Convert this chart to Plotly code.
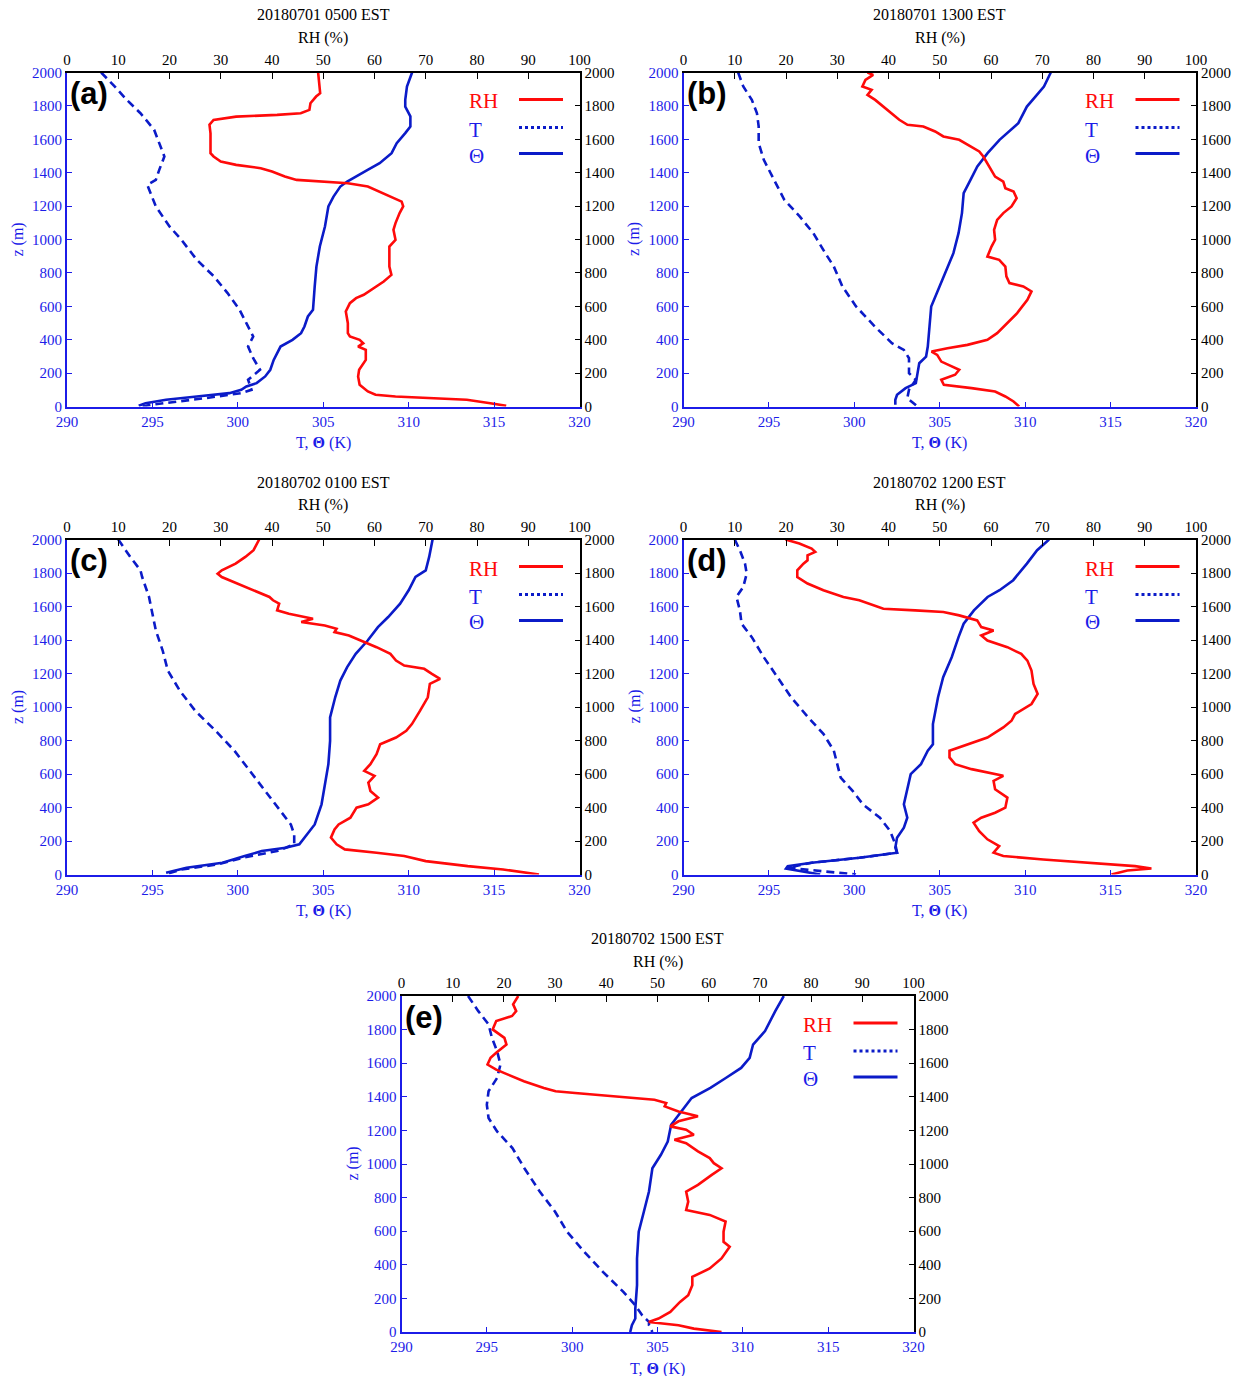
import plotly.graph_objects as go

# ---------------- data ----------------
TITLES = ["20180701 0500 EST", "20180701 1300 EST", "20180702 0100 EST",
          "20180702 1200 EST", "20180702 1500 EST"]
PANEL_LABELS = ["(a)", "(b)", "(c)", "(d)", "(e)"]
TEMP_TICKS = [290, 295, 300, 305, 310, 315, 320]
RH_TICKS = [0, 10, 20, 30, 40, 50, 60, 70, 80, 90, 100]
Z_TICKS = [0, 200, 400, 600, 800, 1000, 1200, 1400, 1600, 1800, 2000]
LEGEND_NAMES = ["RH", "T", "\u0398"]

# Panel (a)
A_RH_Z = [2000, 1876, 1856, 1816, 1776, 1756, 1746, 1736, 1716, 1687, 1636, 1517, 1497, 1467, 1447, 1427, 1407,
          1377, 1357, 1347, 1337, 1317, 1287, 1257, 1227, 1198, 1158, 1098, 1058, 998, 958, 838, 788, 748, 699,
          669, 649, 619, 569, 499, 439, 419, 399, 379, 359, 339, 279, 220, 180, 130, 90, 70, 60, 50, 40, 20, 4]
A_RH = [49.0, 49.4, 48.6, 47.5, 47.3, 45.6, 41, 33, 28.6, 27.8, 28, 28, 28.6, 30, 33, 37.8, 40,
        42.5, 44.8, 50.2, 54.8, 58.7, 61, 63.3, 65.3, 65.6, 64.9, 64.1, 63.7, 64.1, 62.9, 62.9, 63.3, 61.8, 59.5,
        57.9, 56.4, 55.2, 54.4, 54.8, 54.8, 55.2, 57.1, 57.8, 56.8, 58.3, 58.3, 57, 56.8, 57.1, 58.7, 60.2, 64.1,
        71.8, 78, 82.6, 85.7]
A_TH_Z = [2000, 1916, 1836, 1796, 1737, 1677, 1637, 1577, 1517, 1457, 1417, 1377, 1347, 1317, 1257, 1198, 1078,
          958, 838, 719, 579, 539, 479, 439, 399, 359, 319, 279, 220, 180, 140, 120, 100, 80, 60, 40, 20, 4]
A_TH = [310.2, 309.9, 309.8, 309.8, 310.1, 310.1, 309.8, 309.3, 309.0, 308.3, 307.6, 306.9, 306.4, 306.0, 305.6,
        305.3, 305.1, 304.8, 304.6, 304.5, 304.4, 304.1, 303.9, 303.7, 303.2, 302.5, 302.3, 302.1, 301.9, 301.6,
        301.1, 300.5, 300.2, 299.5, 297.6, 295.8, 294.6, 294.2]
A_T_Z = [2000, 1916, 1836, 1756, 1707, 1657, 1577, 1497, 1417, 1357, 1327, 1277, 1198, 1078, 998, 878, 779, 679,
         579, 499, 419, 359, 289, 220, 160, 100, 80, 50, 30, 10, 0]
A_T = [292.0, 292.8, 293.5, 294.3, 294.7, 295.1, 295.4, 295.7, 295.4, 295.2, 294.7, 294.9, 295.2, 296.0, 296.7,
       297.6, 298.6, 299.4, 300.1, 300.5, 300.9, 300.6, 300.9, 301.3, 300.6, 300.8, 300.2, 298.1, 296.3, 294.9,
       294.4]

# Panel (b)
B_RH_Z = [2000, 1986, 1956, 1916, 1896, 1866, 1836, 1776, 1717, 1687, 1677, 1647, 1617, 1597, 1557, 1527, 1497,
          1457, 1417, 1377, 1347, 1307, 1287, 1247, 1198, 1158, 1118, 1058, 998, 958, 898, 878, 838, 779, 739,
          719, 689, 639, 559, 499, 439, 399, 369, 349, 329, 309, 269, 220, 190, 160, 130, 110, 90, 60, 30, 0]
B_RH = [35.9, 37.0, 35.5, 34.9, 36.7, 35.9, 37.4, 39.8, 42.1, 43.7, 46.8, 49.1, 50.7, 53.8, 56.2, 57.7, 58.5,
        59.3, 60.1, 60.8, 62.4, 62.8, 64.4, 65, 64, 62.4, 61.2, 60.6, 60.8, 60.1, 59.3, 61.6, 62.8, 63, 63.6,
        66.3, 67.9, 67.1, 65.1, 63.2, 61.2, 59.3, 55.4, 51.5, 48.4, 49.5, 50.3, 53.8, 53, 50.3, 50.8, 56.2, 60.8,
        62.8, 64.4, 65.5]
B_TH_Z = [2000, 1916, 1856, 1796, 1697, 1597, 1517, 1437, 1357, 1277, 1158, 1038, 918, 798, 699, 599, 479, 359,
          299, 259, 200, 140, 110, 70, 40, 10]
B_TH = [311.5, 311.1, 310.6, 310.1, 309.6, 308.5, 307.8, 307.2, 306.8, 306.4, 306.3, 306.1, 305.8, 305.3, 304.9,
        304.5, 304.4, 304.3, 304.2, 303.8, 303.7, 303.6, 303.0, 302.5, 302.4, 302.4]
B_T_Z = [2000, 1916, 1836, 1756, 1677, 1577, 1477, 1357, 1238, 1138, 1038, 918, 838, 719, 599, 479, 379, 339, 289,
         200, 160, 100, 50, 0]
B_T = [293.2, 293.5, 294.0, 294.3, 294.4, 294.4, 294.7, 295.3, 295.9, 296.8, 297.6, 298.3, 298.8, 299.3, 300.1,
       301.2, 302.2, 302.9, 303.2, 303.2, 303.6, 303.2, 303.1, 303.7]

# Panel (c)
C_RH_Z = [2000, 1936, 1896, 1856, 1816, 1796, 1776, 1737, 1697, 1657, 1637, 1617, 1577, 1557, 1527, 1507, 1487,
          1467, 1447, 1427, 1397, 1357, 1317, 1277, 1247, 1228, 1198, 1168, 1138, 1058, 978, 898, 858, 818, 778,
          719, 659, 619, 589, 549, 499, 459, 419, 399, 339, 299, 269, 220, 180, 150, 130, 110, 80, 50, 30, 0]
C_RH = [37.5, 36.4, 34.8, 32.9, 30.2, 29.4, 30.2, 33.3, 36.4, 39.5, 40.2, 41.4, 41, 43.3, 48, 45.7, 50.3,
        52.6, 52.2, 55, 57.3, 60.4, 63.1, 64.2, 65.8, 69.7, 71.2, 72.8, 70.8, 70.4, 68.9, 67.3, 66.2, 64.2, 61.1,
        60.4, 59.2, 58, 60, 58.8, 59.2, 60.7, 58.8, 56.5, 55.3, 53, 52.2, 51.5, 52.6, 54.2, 60.4, 65.8, 70, 78.2,
        85.1, 92.1]
C_TH_Z = [2000, 1896, 1816, 1776, 1697, 1617, 1537, 1477, 1397, 1317, 1238, 1158, 1058, 938, 798, 659, 539, 419,
          299, 220, 180, 160, 140, 110, 70, 40, 10]
C_TH = [311.4, 311.2, 311.0, 310.4, 310.0, 309.5, 308.8, 308.2, 307.6, 306.9, 306.4, 306.0, 305.7, 305.4, 305.4,
        305.3, 305.1, 304.9, 304.5, 303.9, 303.6, 302.8, 301.4, 300.4, 299.1, 297.0, 295.8]
C_T_Z = [2000, 1896, 1816, 1776, 1657, 1557, 1457, 1337, 1218, 1098, 978, 858, 739, 619, 499, 379, 299, 240, 180,
         140, 100, 60, 30, 0]
C_T = [293.0, 293.7, 294.3, 294.4, 294.8, 295.0, 295.2, 295.6, 295.9, 296.6, 297.5, 298.7, 299.8, 300.7, 301.6,
       302.5, 303.1, 303.3, 303.3, 302.3, 300.3, 298.8, 296.7, 295.7]

# Panel (d)
D_RH_Z = [2000, 1976, 1946, 1926, 1906, 1876, 1856, 1816, 1776, 1737, 1697, 1657, 1637, 1607, 1587, 1577, 1567,
          1547, 1527, 1517, 1477, 1457, 1427, 1397, 1357, 1317, 1277, 1218, 1138, 1078, 1018, 958, 918, 878, 818,
          778, 739, 699, 659, 629, 589, 559, 509, 459, 399, 369, 339, 309, 259, 210, 170, 130, 110, 90, 70, 50,
          36, 24, 0]
D_RH = [19.9, 22.6, 25, 25.7, 24.2, 24.2, 23.4, 22.2, 22.2, 24.2, 27.3, 31.2, 34.3, 37.4, 39, 45.2, 50.7,
        53.8, 56.2, 57.3, 58.1, 60.5, 58.1, 59.3, 63.2, 65.9, 67.1, 67.9, 68.3, 69.1, 67.9, 64.7, 64, 62.4, 59.3,
        55.4, 51.9, 51.9, 53, 56.2, 62.4, 60.5, 60.8, 63.2, 62.8, 60.8, 58.1, 56.6, 57.7, 59.3, 61.6, 60.5, 62.4,
        70.2, 79.6, 88.1, 91.3, 86.6, 83.5]
D_TH_Z = [2000, 1936, 1856, 1757, 1697, 1657, 1577, 1497, 1417, 1297, 1178, 1058, 898, 778, 739, 659, 599, 499,
          419, 339, 279, 220, 160, 130, 100, 70, 50, 36, 20, 0]
D_TH = [311.4, 310.7, 310.1, 309.3, 308.5, 307.8, 307.0, 306.4, 306.1, 305.7, 305.2, 304.9, 304.6, 304.6, 304.3,
        303.9, 303.3, 303.1, 302.9, 303.1, 302.9, 302.5, 302.4, 302.5, 300.3, 297.5, 296.1, 296.0, 297.0, 298.0]
D_T_Z = [2000, 1936, 1856, 1796, 1717, 1657, 1577, 1497, 1417, 1297, 1178, 1058, 938, 838, 739, 659, 579, 499,
         419, 339, 259, 180, 130, 100, 70, 40, 20, 0]
D_T = [293.0, 293.3, 293.6, 293.7, 293.5, 293.1, 293.3, 293.4, 294.0, 294.7, 295.5, 296.3, 297.3, 298.2, 298.8,
       299.0, 299.2, 299.9, 300.5, 301.5, 302.1, 302.4, 302.5, 300.3, 297.5, 296.1, 298.0, 300.1]

# Panel (e)
E_RH_Z = [2000, 1950, 1910, 1881, 1851, 1801, 1751, 1711, 1662, 1632, 1592, 1562, 1532, 1493, 1453, 1433, 1423,
          1403, 1383, 1363, 1343, 1313, 1284, 1254, 1224, 1204, 1174, 1144, 1124, 1075, 1035, 1005, 975, 935, 876,
          836, 776, 726, 697, 657, 597, 537, 507, 438, 378, 328, 279, 219, 179, 119, 80, 60, 40, 20, 0]
E_RH = [22.8, 21.8, 22.4, 21.6, 18.5, 17.8, 20.1, 20.5, 18.5, 17.4, 16.8, 18.5, 20.8, 23.9, 27.8, 30.1, 33.9,
        41.7, 49.4, 51.7, 51.4, 54.1, 57.9, 54.1, 52.5, 55.6, 57.1, 53.3, 55.6, 57.9, 60.2, 61, 62.5, 60.6, 57.9,
        55.6, 56, 55.6, 60.2, 63.3, 62.9, 62.9, 64.1, 62.5, 60.2, 56.8, 56.8, 56, 54.4, 52.5, 50.2, 48.3, 54.1,
        57.1, 62.5]
E_TH_Z = [2000, 1910, 1791, 1711, 1632, 1572, 1512, 1453, 1393, 1313, 1234, 1134, 1055, 975, 836, 716, 597, 438,
          279, 139, 80, 40, 0]
E_TH = [312.4, 311.9, 311.3, 310.6, 310.4, 309.9, 309.0, 308.1, 307.0, 306.4, 305.8, 305.6, 305.2, 304.7, 304.5,
        304.2, 303.9, 303.8, 303.8, 303.7, 303.7, 303.5, 303.4]
E_T_Z = [2000, 1910, 1831, 1751, 1672, 1592, 1512, 1433, 1353, 1274, 1194, 1095, 975, 836, 716, 597, 478, 358,
         239, 159, 100, 60, 40, 0]
E_T = [293.9, 294.5, 295.1, 295.3, 295.6, 295.8, 295.6, 295.1, 295.0, 295.1, 295.6, 296.5, 297.2, 298.1, 299.0,
       299.7, 300.7, 301.8, 303.0, 303.7, 304.1, 304.5, 304.5, 304.7]

PANELS = [
    (A_RH_Z, A_RH, A_T_Z, A_T, A_TH_Z, A_TH),
    (B_RH_Z, B_RH, B_T_Z, B_T, B_TH_Z, B_TH),
    (C_RH_Z, C_RH, C_T_Z, C_T, C_TH_Z, C_TH),
    (D_RH_Z, D_RH, D_T_Z, D_T, D_TH_Z, D_TH),
    (E_RH_Z, E_RH, E_T_Z, E_T, E_TH_Z, E_TH),
]

# ---------------- layout geometry (pixels) ----------------
W, H = 1246, 1376
BOXES = [  # left, right, top, bottom
    (67, 579.5, 72.5, 406.5),
    (683.5, 1196, 72.5, 406.5),
    (67, 579.5, 539.5, 874.5),
    (683.5, 1196, 539.5, 874.5),
    (401.5, 913.5, 996, 1332),
]

RED = "#ff0a0a"
LINE_BLUE = "#0b1bc8"
AX_BLUE = "#1c1ce8"
SERIF = "Liberation Serif"

def px(x):
    return x / W

def py(y):
    return 1 - y / H

fig = go.Figure()
layout = dict(width=W, height=H, autosize=False,
              margin=dict(l=0, r=0, t=0, b=0, pad=0, autoexpand=False),
              paper_bgcolor="white", plot_bgcolor="white", showlegend=False)
annotations = []
shapes = []

for p, (box, data) in enumerate(zip(BOXES, PANELS)):
    l, r, t, b = box
    rhz, rh, tz, tt, thz, th = data
    xb, xt = 2 * p + 1, 2 * p + 2
    yl, yr = 2 * p + 1, 2 * p + 2
    xb_n = "xaxis" if xb == 1 else f"xaxis{xb}"
    yl_n = "yaxis" if yl == 1 else f"yaxis{yl}"
    xb_r = "x" if xb == 1 else f"x{xb}"
    yl_r = "y" if yl == 1 else f"y{yl}"

    common = dict(showgrid=False, zeroline=False, automargin=False, ticks="inside", linewidth=2,
                  showline=True)
    layout[xb_n] = dict(domain=[px(l), px(r)], range=[290, 320], tickvals=TEMP_TICKS,
                        anchor=yl_r, side="bottom", linecolor=AX_BLUE, ticklen=5, tickcolor=AX_BLUE,
                        tickfont=dict(family=SERIF, size=15, color=AX_BLUE), **common)
    layout[f"xaxis{xt}"] = dict(overlaying=xb_r, range=[0, 100], tickvals=RH_TICKS, anchor=yl_r,
                                side="top", linecolor="black", ticklen=6, tickcolor="black",
                                tickfont=dict(family=SERIF, size=15, color="black"), **common)
    layout[yl_n] = dict(domain=[py(b), py(t)], range=[0, 2000], tickvals=Z_TICKS, anchor=xb_r,
                        side="left", linecolor=AX_BLUE, ticklen=5, tickcolor=AX_BLUE,
                        tickfont=dict(family=SERIF, size=15, color=AX_BLUE), **common)
    layout[f"yaxis{yr}"] = dict(overlaying=yl_r, range=[0, 2000], tickvals=Z_TICKS, anchor=xb_r,
                                side="right", linecolor="black", ticklen=5, tickcolor="black",
                                tickfont=dict(family=SERIF, size=15, color="black"), **common)

    fig.add_trace(go.Scatter(x=rh, y=rhz, mode="lines", xaxis=f"x{xt}", yaxis=yl_r,
                             line=dict(color=RED, width=2.6), name="RH"))
    fig.add_trace(go.Scatter(x=tt, y=tz, mode="lines", xaxis=xb_r, yaxis=yl_r,
                             line=dict(color=LINE_BLUE, width=2.6, dash="8px,5px"), name="T"))
    fig.add_trace(go.Scatter(x=th, y=thz, mode="lines", xaxis=xb_r, yaxis=yl_r,
                             line=dict(color=LINE_BLUE, width=2.6), name="\u0398"))
    fig.add_trace(go.Scatter(x=[None], y=[None], mode="lines", xaxis=xb_r, yaxis=f"y{yr}",
                             hoverinfo="skip", showlegend=False))

    cx = (l + r) / 2
    annotations += [
        dict(text=TITLES[p], x=px(cx), y=py(t - 57.5), xref="paper", yref="paper",
             showarrow=False, xanchor="center", yanchor="middle",
             font=dict(family=SERIF, size=16, color="black")),
        dict(text="RH (%)", x=px(cx), y=py(t - 34.5), xref="paper", yref="paper",
             showarrow=False, xanchor="center", yanchor="middle",
             font=dict(family=SERIF, size=16, color="black")),
        dict(text="T, <b>\u0398</b> (K)", x=px(cx), y=py(b + 36.5), xref="paper", yref="paper",
             showarrow=False, xanchor="center", yanchor="middle",
             font=dict(family=SERIF, size=16, color=AX_BLUE)),
        dict(text="z (m)", x=px(l - 49), y=py((t + b) / 2), xref="paper", yref="paper",
             showarrow=False, xanchor="center", yanchor="middle", textangle=-90,
             font=dict(family=SERIF, size=16, color=AX_BLUE)),
        dict(text="<b>" + PANEL_LABELS[p] + "</b>", x=px(l + 1), y=py(t + 21), xref="paper",
             yref="paper", showarrow=False, xanchor="left", yanchor="middle",
             font=dict(family="Liberation Sans", size=31, color="black")),
    ]
    # legend (text left, line sample right)
    leg_y = [t + 27, t + 55, t + 81]
    leg_cols = [RED, AX_BLUE, AX_BLUE]
    leg_x = [l + 416, l + 408, l + 409]
    dashes = ["solid", "dot", "solid"]
    for name, yy, col, xx, dsh in zip(LEGEND_NAMES, leg_y, leg_cols, leg_x, dashes):
        annotations.append(dict(text=name, x=px(xx), y=py(yy + 2), xref="paper", yref="paper",
                                showarrow=False, xanchor="center", yanchor="middle",
                                font=dict(family=SERIF, size=21, color=col)))
        shapes.append(dict(type="line", xref="paper", yref="paper",
                           x0=px(l + 452), x1=px(l + 496), y0=py(yy), y1=py(yy),
                           line=dict(color=RED if name == "RH" else LINE_BLUE, width=3, dash=dsh)))

layout["annotations"] = annotations
layout["shapes"] = shapes
fig.update_layout(**layout)
fig.write_html(
    "out.html",
    config={"responsive": False, "displayModeBar": False},
    post_script="document.body.style.margin='0';document.body.style.padding='0';"
                "document.documentElement.style.overflow='hidden';",
)
